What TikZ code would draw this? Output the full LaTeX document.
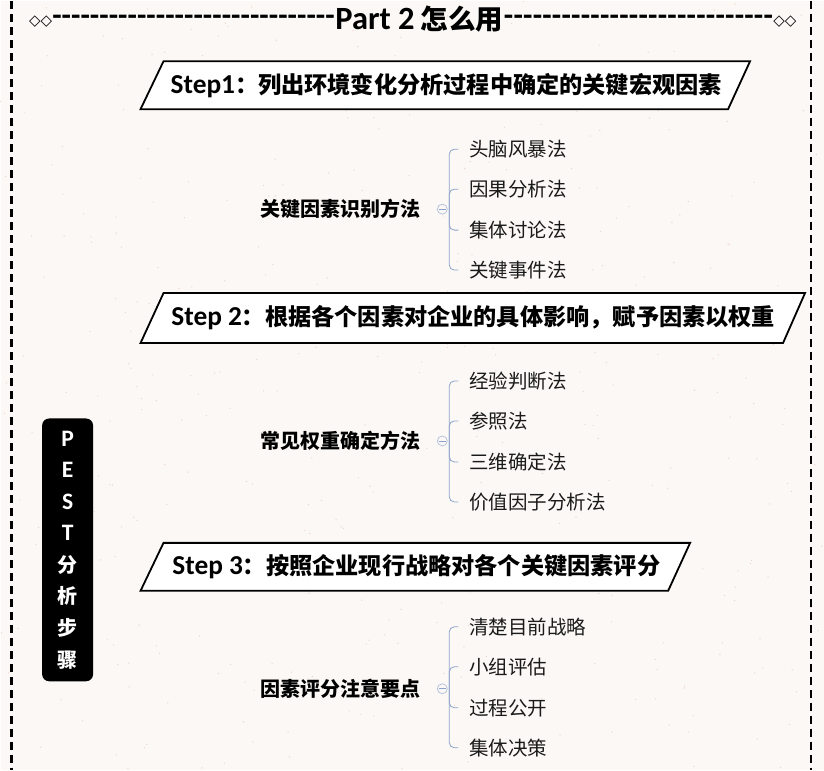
\documentclass[tikz,border=0pt]{standalone}
\usepackage{fontspec}
\setmainfont{Noto Sans CJK SC}
\newfontfamily\lat[Scale=1.18]{Carlito}
\newfontfamily\sym{DejaVu Sans}
\definecolor{paper}{HTML}{FBF8F5}
\definecolor{speck}{HTML}{F0D5CC}
\definecolor{brace}{HTML}{8DA3CC}
\definecolor{ink}{HTML}{1A1A1A}
\tikzset{
  banner/.style={draw=black, line width=1.8pt, fill=white},
  steptext/.style={inner sep=0pt, font=\bfseries\fontsize{23.2}{26}\selectfont},
  grouplabel/.style={inner sep=0pt, font=\bfseries\fontsize{20}{24}\selectfont},
  item/.style={anchor=west, inner xsep=11pt, inner ysep=0pt, text=ink, font=\fontsize{19.5}{23}\selectfont},
  bracket/.style={draw=brace, line width=0.8pt, rounded corners=5pt},
  fold/.style={draw=brace!70, circle, minimum size=10pt, inner sep=0pt, line width=0.7pt},
  pest/.style={fill=black, rounded corners=7pt, minimum width=51pt, minimum height=263pt, text=white, align=center, font=\bfseries\fontsize{20}{31.6}\selectfont},
}
\newcommand\deco{{\sym\mdseries\fontsize{15}{15}\selectfont ◇◇}}
\newcommand\dashfill{{\lat\bfseries\fontsize{26}{26}\selectfont\xleaders\hbox{-}\hfill}}
\begin{document}
\begin{tikzpicture}[x=1pt, y=-1pt]
% paper
\fill[paper] (0,0) rectangle (824,769);
\pgfmathsetseed{7}
\foreach \i in {1,...,420} \fill[speck] ({rnd*824},{rnd*769}) circle (0.7pt);
\draw[line width=2.6pt, dash pattern=on 8pt off 5pt] (11,0)--(11,769);
\draw[line width=2.6pt, dash pattern=on 8pt off 5pt] (811,0)--(811,769);
% title
\draw (419,18) node[inner sep=0pt, font=\bfseries\fontsize{27.5}{30}\selectfont](T){{\lat Part 2} 怎么用};
\draw (T.west) node[anchor=east, inner sep=0pt, yshift=-2pt](TL){\makebox[306pt][l]{\deco\dashfill}};
\draw (T.east) node[anchor=west, inner sep=0pt, yshift=-2pt](TR){\makebox[293pt][r]{\dashfill\deco}};
% side tag
\draw (67,549) node[pest](P){\lat P\\\lat E\\\lat S\\\lat T\\分\\析\\步\\骤};
% step 1
\draw[banner] (140,108)--(163,60)--(750,60)--(728,108)--cycle;
\draw (446,84) node[steptext](S1){{\lat Step1}：列出环境变化分析过程中确定的关键宏观因素};
\draw (340,208) node[grouplabel](K){关键因素识别方法}
(442,208) node[fold](KF){}
(458,148) node[item](K1){头脑风暴法}
(458,188) node[item](K2){因果分析法}
(458,229) node[item](K3){集体讨论法}
(458,269) node[item](K4){关键事件法};
\draw[brace, line width=0.7pt] ([xshift=2pt]KF.west)--([xshift=-2pt]KF.east);
\coordinate (KB) at (449,208);
\draw[bracket] (KB) |- (K1.west);
\draw[bracket] (KB) |- (K2.west);
\draw[bracket] (KB) |- (K3.west);
\draw[bracket] (KB) |- (K4.west);
% step 2
\draw[banner] (140,342)--(163,292)--(805,292)--(783,342)--cycle;
\draw (473,317) node[steptext](S2){{\lat Step 2}：根据各个因素对企业的具体影响，赋予因素以权重};
\draw (340,440) node[grouplabel](W){常见权重确定方法}
(442,440) node[fold](WF){}
(458,380) node[item](W1){经验判断法}
(458,420) node[item](W2){参照法}
(458,461) node[item](W3){三维确定法}
(458,501) node[item](W4){价值因子分析法};
\draw[brace, line width=0.7pt] ([xshift=2pt]WF.west)--([xshift=-2pt]WF.east);
\coordinate (WB) at (449,440);
\draw[bracket] (WB) |- (W1.west);
\draw[bracket] (WB) |- (W2.west);
\draw[bracket] (WB) |- (W3.west);
\draw[bracket] (WB) |- (W4.west);
% step 3
\draw[banner] (140,590)--(163,542)--(690,542)--(668,590)--cycle;
\draw (416,566) node[steptext](S3){{\lat Step 3}：按照企业现行战略对各个关键因素评分};
\draw (340,688) node[grouplabel](R){因素评分注意要点}
(442,688) node[fold](RF){}
(458,626) node[item](R1){清楚目前战略}
(458,666) node[item](R2){小组评估}
(458,707) node[item](R3){过程公开}
(458,747) node[item](R4){集体决策};
\draw[brace, line width=0.7pt] ([xshift=2pt]RF.west)--([xshift=-2pt]RF.east);
\coordinate (RB) at (449,688);
\draw[bracket] (RB) |- (R1.west);
\draw[bracket] (RB) |- (R2.west);
\draw[bracket] (RB) |- (R3.west);
\draw[bracket] (RB) |- (R4.west);
\end{tikzpicture}
\end{document}
